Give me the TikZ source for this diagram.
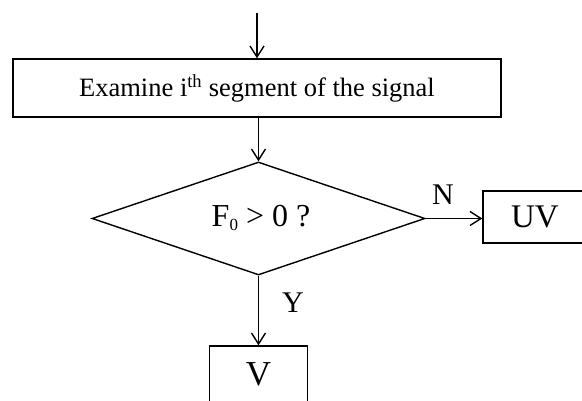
\documentclass[tikz,border=0pt]{standalone}
\usepackage{fontspec}
\setmainfont{Liberation Serif}
\usetikzlibrary{shapes.geometric,arrows.meta}
\begin{document}
\begin{tikzpicture}[x=1pt,y=1pt,
  line width=1.4pt,
  arr/.style={-{Straight Barb[length=11pt,width=14pt,line width=1.4pt]}},
  procbox/.style={draw,rectangle,inner sep=0pt},
  lbl/.style={inner sep=0pt,font=\fontsize{30}{30}\selectfont}]
\useasboundingbox (0,0) rectangle (582,401);
\coordinate (start) at (257,388);
\node[procbox,minimum width=488pt,minimum height=58pt,font=\fontsize{26.5}{26.5}\selectfont] (exam) at (257,313) {Examine i\textsuperscript{th} segment of the signal};
\node[draw,diamond,aspect=2.95,inner sep=0pt,minimum width=333pt,minimum height=113pt] (dec) at (258.5,182.5) {};
\node[inner sep=0pt,font=\fontsize{32}{32}\selectfont] (dectext) at (261,183) {F\raisebox{-0.3ex}{\fontsize{17}{17}\selectfont 0} {>} 0 ?};
\node[procbox,minimum width=104pt,minimum height=52pt,font=\fontsize{33}{33}\selectfont] (uv) at (535,184) {UV};
\node[procbox,minimum width=98pt,minimum height=56pt,font=\fontsize{35}{35}\selectfont] (v) at (258.5,27) {V};
\draw[arr] (start) -- (exam.north -| start);
\draw[arr] (exam.south -| dec.north) -- (dec.north);
\draw[arr] (dec.east) -- (uv.west |- dec.east);
\draw[arr] (dec.south) -- (v.north -| dec.south);
\node[lbl] (nlab) at (443,206) {N};
\node[lbl] (ylab) at (293,98) {Y};
\end{tikzpicture}
\end{document}
